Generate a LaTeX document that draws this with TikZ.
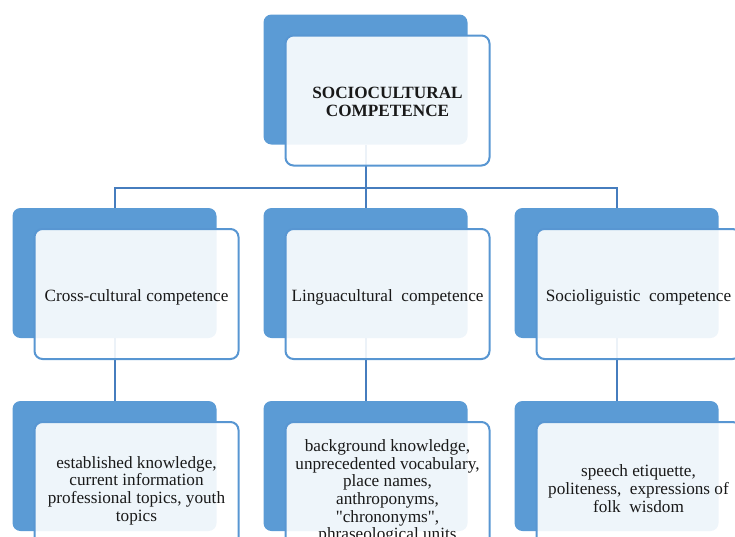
\documentclass[tikz,border=0pt]{standalone}
\usepackage{fontspec}
\setmainfont{Liberation Serif}[Ligatures=TeXOff]
\definecolor{blueback}{RGB}{91,155,213}
\definecolor{blueline}{RGB}{88,150,210}
\definecolor{linkcol}{RGB}{70,125,190}
\begin{document}
\begin{tikzpicture}[x=0.75pt,y=-0.75pt,
  back/.style={draw=none, fill=blueback, rounded corners=6pt,
    minimum width=153pt, minimum height=97.5pt, inner sep=0pt},
  front/.style={draw=blueline, line width=1.5pt, fill=white, fill opacity=0.9,
    rounded corners=6pt, minimum width=153pt, minimum height=97.5pt,
    inner sep=0pt},
  txt/.style={align=center, inner sep=0pt, text=black!90,
    font=\fontsize{12.9}{13.2}\selectfont},
  link/.style={draw=linkcol, line width=1.5pt}]
\useasboundingbox (0,0) rectangle (735,536);
\clip (0,0) rectangle (735,536);

% back panels
\node[back] (topB) at (365.5,79.5) {};
\node[back] (cB1) at (114.5,273) {};
\node[back] (cB2) at (365.5,273) {};
\node[back] (cB3) at (616.5,273) {};
\node[back] (dB1) at (114.5,466) {};
\node[back] (dB2) at (365.5,466) {};
\node[back] (dB3) at (616.5,466) {};

% connectors
\coordinate (bar) at (365.5,188);
\draw[link] (topB.south) -- (bar);
\draw[link] (cB1.north) |- (bar) -| (cB3.north);
\draw[link] (bar) -- (cB2.north);
\draw[link] (cB1.south) -- (dB1.north);
\draw[link] (cB2.south) -- (dB2.north);
\draw[link] (cB3.south) -- (dB3.north);

% front panels
\node[front] (topF) at (387.5,100.5) {};
\node[front] (cF1) at (136.5,294) {};
\node[front] (cF2) at (387.5,294) {};
\node[front] (cF3) at (638.5,294) {};
\node[front] (dF1) at (136.5,487) {};
\node[front] (dF2) at (387.5,487) {};
\node[front] (dF3) at (638.5,487) {};

% panel texts
\node[txt] (topT) at ([yshift=-1.2pt]topF.center) {\textbf{SOCIOCULTURAL}\\\textbf{COMPETENCE}};
\node[txt] (cT1) at ([yshift=-2.3pt]cF1.center) {Cross-cultural competence};
\node[txt] (cT2) at ([yshift=-2.3pt]cF2.center) {Linguacultural\ \ competence};
\node[txt] (cT3) at ([yshift=-2.3pt]cF3.center) {Socioliguistic\ \ competence};
\node[txt] (dT1) at ([yshift=-2.6pt]dF1.center) {established knowledge,\\current information\\professional topics, youth\\topics};
\node[txt] (dT2) at ([yshift=-3.4pt]dF2.center) {background knowledge,\\unprecedented vocabulary,\\place names,\\anthroponyms,\\"chrononyms",\\phraseological units};
\node[txt] (dT3) at ([yshift=-1.2pt]dF3.center) {speech etiquette,\\politeness,\ \ expressions of\\folk\ \ wisdom};
\end{tikzpicture}
\end{document}
